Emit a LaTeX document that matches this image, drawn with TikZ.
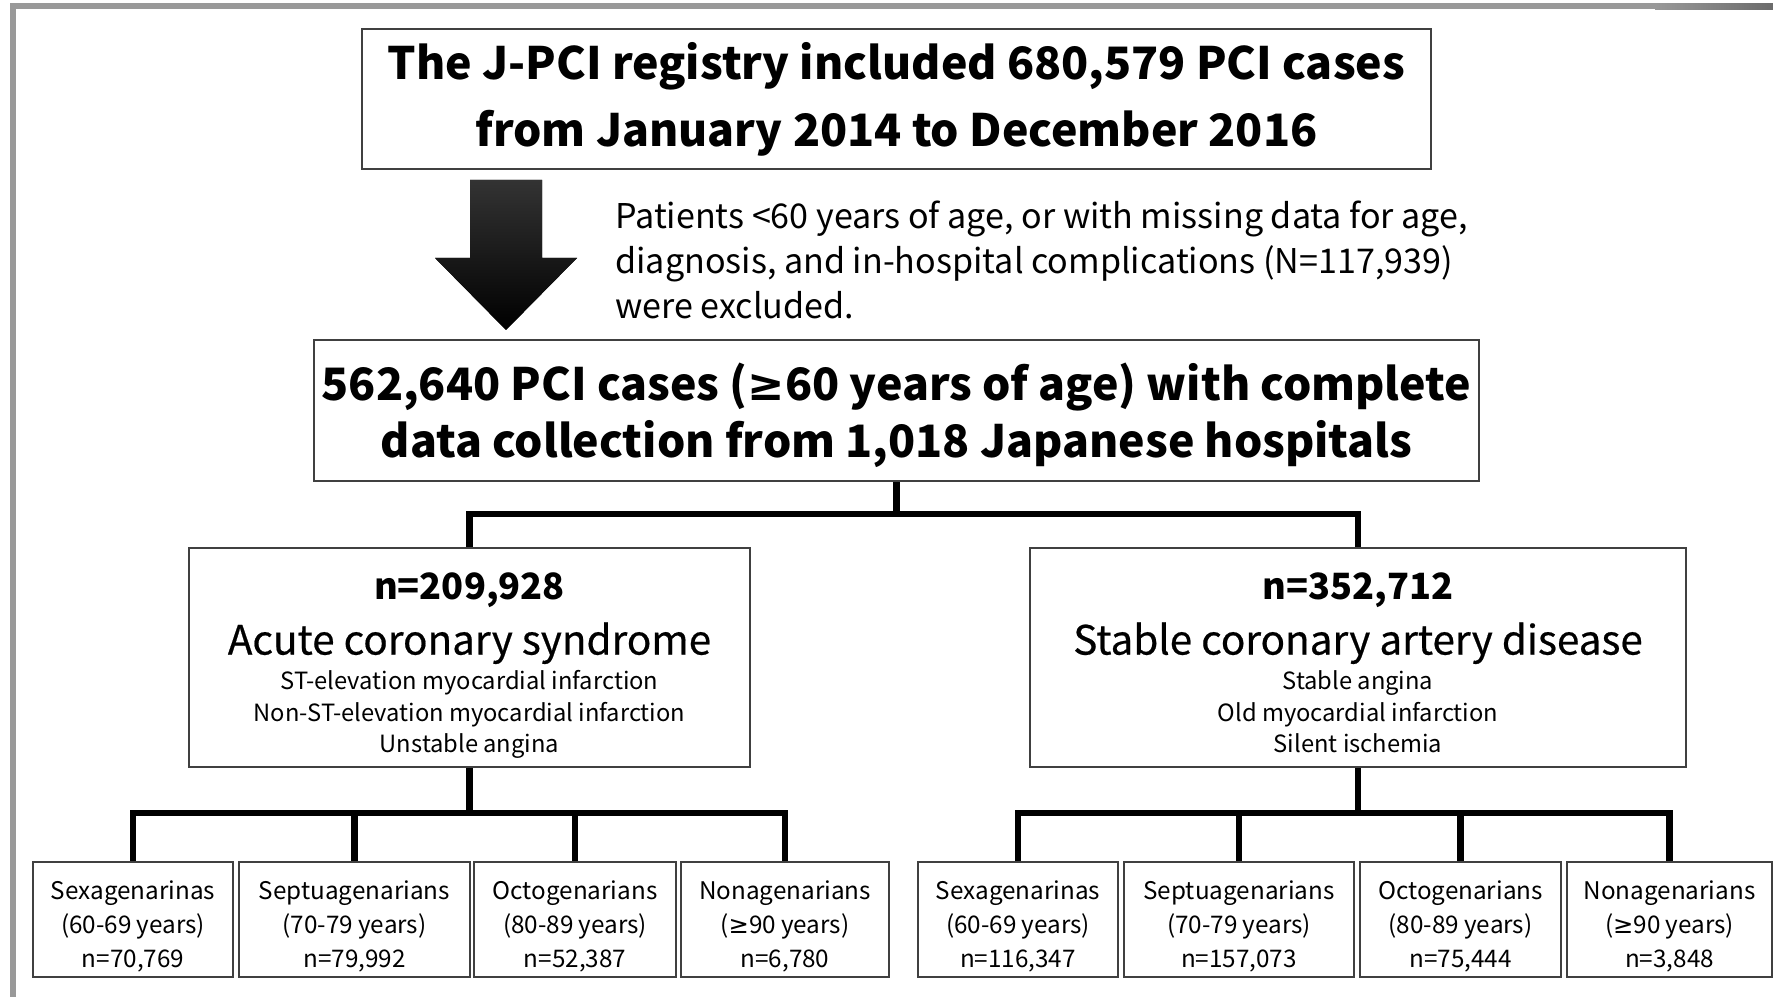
\documentclass[tikz,border=0pt]{standalone}
\usepackage{fontspec}
\setmainfont{Noto Sans CJK JP}
\newfontfamily\symfont{DejaVu Sans}
\newfontfamily\medfont[FakeBold=0.5]{Noto Sans CJK JP}
\newcommand{\geqsign}{{\symfont ≥}}
\newcommand{\tightrows}{\lineskiplimit=-100pt\relax}
\usetikzlibrary{positioning}

\tikzset{
  box/.style={draw=black!75, line width=0.6pt, align=center, inner sep=0pt, text depth=0pt},
  link/.style={line width=1.8pt},
  agebox/.style={box, text height=0.95cm, minimum height=1.15cm,
    font=\fontsize{6.9}{9.6}\selectfont\tightrows},
  groupbox/.style={box, text height=1.91cm, minimum height=2.19cm,
    font=\fontsize{6.75}{9}\selectfont\tightrows},
}

\begin{document}
\begin{tikzpicture}[x=1cm,y=-1cm]
        \useasboundingbox (0,0) rectangle (17.73,9.97);
        % frame of the page
        \draw [black!40, line width=0.06cm] (0.13,9.97) -- (0.13,0.065) -- (17.73,0.065);
        \shade [left color=black!40, right color=black!58] (16.55,0.035) rectangle (17.73,0.095);

        \node [box, text height=0.96cm, minimum width=10.69cm, minimum height=1.40cm,
               font=\fontsize{12.7}{19.3}\selectfont\bfseries] (reg) at (8.965,0.99)
            {The J-PCI registry included 680,579 PCI cases\\from January 2014 to December 2016};

        % exclusion
        \fill [top color=black!80, bottom color=black] (4.70,1.80) -- (5.42,1.80) -- (5.42,2.58) -- (5.77,2.58)
            -- (5.06,3.30) -- (4.35,2.58) -- (4.70,2.58) -- cycle;
        \node [anchor=west, align=left, font=\fontsize{9.7}{12.8}\selectfont] (excl) at (6.03,2.60)
            {Patients <60 years of age, or with missing data for age,\\
             diagnosis, and in-hospital complications (N=117,939)\\
             were excluded.};

        \node [box, text height=0.95cm, minimum width=11.65cm, minimum height=1.41cm,
               font=\fontsize{12.7}{16.5}\selectfont\bfseries] (all) at (8.965,4.105)
            {562,640 PCI cases (\geqsign60 years of age) with complete\\data collection from 1,018 Japanese hospitals};

        % diagnosis
        \node [groupbox, minimum width=5.61cm] (acs) at (4.695,6.575)
            {{\fontsize{10.3}{12}\selectfont\bfseries n=209,928}\\[6.6pt]
             {\fontsize{11.5}{13}\medfont Acute coronary syndrome}\\[1pt]
             ST-elevation myocardial infarction\\
             Non-ST-elevation myocardial infarction\\
             Unstable angina};
        \node [groupbox, minimum width=6.56cm] (scad) at (13.58,6.575)
            {{\fontsize{10.3}{12}\selectfont\bfseries n=352,712}\\[6.6pt]
             {\fontsize{11.5}{13}\medfont Stable coronary artery disease}\\[1pt]
             Stable angina\\
             Old myocardial infarction\\
             Silent ischemia};

        % age groups, ACS
        \node [agebox, minimum width=2.00cm] (a1) at (1.33,9.195)  {Sexagenarinas\\(60-69 years)\\n=70,769};
        \node [agebox, minimum width=2.31cm] (a2) at (3.545,9.195) {Septuagenarians\\(70-79 years)\\n=79,992};
        \node [agebox, minimum width=2.02cm] (a3) at (5.75,9.195)  {Octogenarians\\(80-89 years)\\n=52,387};
        \node [agebox, minimum width=2.08cm] (a4) at (7.85,9.195)  {Nonagenarians\\(\geqsign90 years)\\n=6,780};

        % age groups, SCAD
        \node [agebox, minimum width=2.00cm] (s1) at (10.18,9.195)  {Sexagenarinas\\(60-69 years)\\n=116,347};
        \node [agebox, minimum width=2.30cm] (s2) at (12.39,9.195)  {Septuagenarians\\(70-79 years)\\n=157,073};
        \node [agebox, minimum width=2.01cm] (s3) at (14.605,9.195) {Octogenarians\\(80-89 years)\\n=75,444};
        \node [agebox, minimum width=2.05cm] (s4) at (16.695,9.195) {Nonagenarians\\(\geqsign90 years)\\n=3,848};

        \coordinate (split) at (8.965,5.14);
        \coordinate (acsjoin) at (4.695,8.13);
        \coordinate (scadjoin) at (13.58,8.13);

        \draw [link] (all.south) -- (split);
        \draw [link] (acs.north) |- (split) -| (scad.north);
        \draw [link] (acs.south) -- (acsjoin);
        \draw [link] (scad.south) -- (scadjoin);
        \foreach \i in {1,...,4} {
            \draw [link] (a\i.north) |- (acsjoin);
            \draw [link] (s\i.north) |- (scadjoin);
        }
\end{tikzpicture}
\end{document}
